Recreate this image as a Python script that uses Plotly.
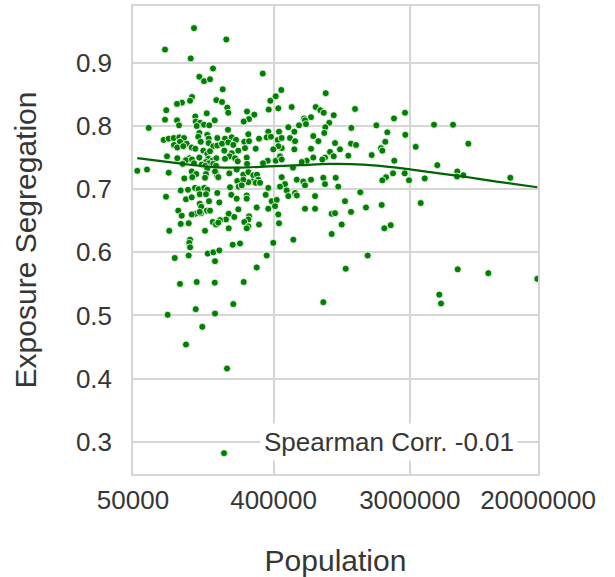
import math
import plotly.graph_objects as go

population = [
    123300, 198800, 80300, 117400, 163300, 133400, 143000, 156200, 188500, 119700,
    116300, 103200, 95900, 171500, 186600, 201800, 204800, 81800, 80300, 95900,
    125700, 148800, 167500, 98800, 126500, 134800, 143000, 154600, 128300, 63100,
    203900, 340700, 448600, 412900, 381300, 865000, 270100, 300800, 278200, 257200,
    372400, 429000, 523000, 746000, 799000, 840000, 974000, 696000, 628000, 637000,
    646000, 583000, 497700, 912000, 860000, 133400, 150100, 78700, 84800, 91300,
    99200, 106300, 131400, 153200, 174000, 195000, 215400, 229500, 91700, 100200,
    110700, 119200, 125700, 136100, 153200, 164000, 174000, 186600, 204800, 220500,
    96300, 105200, 141500, 150100, 156200, 193000, 215400, 237500, 209100, 226200,
    195000, 82700, 96300, 115000, 109500, 119700, 133400, 152300, 147200, 161600,
    171500, 53300, 61500, 84800, 104300, 123300, 138200, 153900, 164000, 145700,
    150100, 170700, 119200, 147200, 172500, 168200, 127600, 207900, 231900, 106800,
    120200, 145100, 176600, 210100, 233900, 238800, 101300, 112800, 125100, 132100,
    143600, 150100, 134200, 147200, 174000, 214100, 81500, 109500, 119200, 179300,
    134200, 153900, 137300, 148800, 156200, 136700, 125700, 134200, 97700, 102800,
    119200, 206000, 237500, 223800, 197900, 181100, 162600, 170700, 176600, 206000,
    145100, 101300, 114000, 85500, 116300, 115000, 243500, 544000, 370100, 433500,
    847000, 275400, 259500, 278200, 262200, 307100, 322600, 361400, 385200, 425300,
    451200, 510000, 550000, 544000, 451200, 429000, 398500, 720000, 776000, 993000,
    1069000, 696000, 922000, 974000, 856000, 823000, 720000, 653000, 607000, 412900,
    440000, 451200, 366800, 342200, 268900, 235300, 270100, 533000, 255700, 275400,
    296400, 313100, 319300, 292100, 275400, 255700, 249700, 307100, 327300, 451200,
    473900, 440000, 370100, 564000, 621000, 637000, 696000, 835000, 856000, 1003000,
    1042000, 485800, 497700, 550000, 564000, 739000, 268900, 268900, 231900, 356100,
    389100, 419100, 408700, 370100, 311700, 429000, 637000, 739000, 945000, 993000,
    1096000, 1151000, 278200, 275400, 259500, 275400, 268900, 322600, 433500, 945000,
    536000, 398500, 1335000, 2797000, 2376000, 1264000, 1829000, 2152000, 2809000, 4295000,
    5689000, 1258000, 1355000, 2089000, 1961000, 1999000, 3276000, 7135000, 1209000, 1708000,
    2387000, 4510000, 6062000, 6035000, 6625000, 13280000, 2111000, 1999000, 2342000, 2785000,
    2967000, 3743000, 1443000, 1981000, 1570000, 1258000, 3528000, 2059000, 2263000, 1610000,
    1163000, 6098000, 9590000, 19800000, 4645000, 4763000, 116300, 92700, 114000, 151000,
    164000, 179300, 168200, 218600, 361400, 311700, 100200, 128300, 167500, 257200,
    220500, 126500, 83500, 168200, 139400, 109500, 200900, 835000, 192200,
]

exposure_segregation = [
    0.955, 0.937, 0.921, 0.907, 0.891, 0.878, 0.871, 0.874, 0.858, 0.846,
    0.840, 0.837, 0.835, 0.841, 0.838, 0.829, 0.821, 0.825, 0.810, 0.809,
    0.815, 0.820, 0.809, 0.801, 0.807, 0.805, 0.802, 0.801, 0.800, 0.797,
    0.794, 0.883, 0.857, 0.847, 0.840, 0.852, 0.823, 0.818, 0.811, 0.807,
    0.826, 0.828, 0.830, 0.830, 0.825, 0.821, 0.817, 0.814, 0.812, 0.809,
    0.803, 0.801, 0.798, 0.805, 0.798, 0.789, 0.786, 0.778, 0.780, 0.781,
    0.782, 0.781, 0.783, 0.780, 0.781, 0.780, 0.782, 0.778, 0.770, 0.775,
    0.772, 0.766, 0.764, 0.775, 0.773, 0.768, 0.769, 0.772, 0.774, 0.770,
    0.766, 0.768, 0.761, 0.756, 0.760, 0.761, 0.757, 0.761, 0.752, 0.749,
    0.748, 0.752, 0.749, 0.749, 0.746, 0.747, 0.750, 0.748, 0.743, 0.745,
    0.749, 0.729, 0.731, 0.726, 0.740, 0.741, 0.739, 0.741, 0.740, 0.737,
    0.733, 0.737, 0.728, 0.724, 0.723, 0.728, 0.724, 0.725, 0.731, 0.717,
    0.719, 0.718, 0.719, 0.703, 0.713, 0.704, 0.698, 0.699, 0.702, 0.700,
    0.702, 0.699, 0.692, 0.692, 0.694, 0.691, 0.688, 0.684, 0.687, 0.679,
    0.677, 0.681, 0.672, 0.666, 0.666, 0.662, 0.661, 0.664, 0.666, 0.658,
    0.660, 0.661, 0.668, 0.656, 0.652, 0.651, 0.648, 0.644, 0.647, 0.638,
    0.634, 0.645, 0.646, 0.634, 0.620, 0.615, 0.614, 0.791, 0.791, 0.791,
    0.789, 0.787, 0.775, 0.776, 0.765, 0.764, 0.780, 0.782, 0.783, 0.778,
    0.781, 0.781, 0.776, 0.763, 0.765, 0.768, 0.763, 0.784, 0.776, 0.773,
    0.763, 0.764, 0.759, 0.752, 0.750, 0.747, 0.750, 0.745, 0.743, 0.745,
    0.752, 0.747, 0.745, 0.741, 0.750, 0.744, 0.740, 0.734, 0.723, 0.727,
    0.722, 0.723, 0.715, 0.712, 0.711, 0.715, 0.706, 0.710, 0.710, 0.719,
    0.708, 0.704, 0.702, 0.715, 0.712, 0.706, 0.715, 0.718, 0.708, 0.718,
    0.704, 0.698, 0.689, 0.694, 0.690, 0.689, 0.690, 0.685, 0.685, 0.691,
    0.681, 0.683, 0.673, 0.669, 0.671, 0.660, 0.669, 0.669, 0.661, 0.662,
    0.644, 0.681, 0.657, 0.652, 0.648, 0.641, 0.638, 0.644, 0.646, 0.629,
    0.620, 0.615, 0.827, 0.821, 0.812, 0.797, 0.801, 0.790, 0.786, 0.802,
    0.802, 0.772, 0.770, 0.775, 0.765, 0.761, 0.767, 0.772, 0.753, 0.754,
    0.745, 0.738, 0.728, 0.720, 0.722, 0.718, 0.719, 0.714, 0.725, 0.725,
    0.714, 0.717, 0.695, 0.675, 0.671, 0.664, 0.678, 0.638, 0.643, 0.595,
    0.574, 0.573, 0.567, 0.558, 0.533, 0.519, 0.608, 0.591, 0.595, 0.598,
    0.600, 0.603, 0.586, 0.612, 0.595, 0.576, 0.550, 0.553, 0.552, 0.553,
    0.518, 0.510, 0.501, 0.503, 0.482, 0.454, 0.416, 0.521, 0.282,
]

# LOWESS trend
trend_population = [53300, 105200, 164000, 243500, 368500, 591000, 922000,
                    1510000, 2473000, 4050000, 6630000, 10860000, 19800000]
trend_segregation = [0.749, 0.740, 0.735, 0.734, 0.736, 0.738, 0.740,
                     0.739, 0.734, 0.727, 0.720, 0.712, 0.703]

x_ticks = [50000, 400000, 3000000, 20000000]
x_tick_labels = ["50000", "400000", "3000000", "20000000"]
y_ticks = [0.3, 0.4, 0.5, 0.6, 0.7, 0.8, 0.9]
y_tick_labels = ["0.3", "0.4", "0.5", "0.6", "0.7", "0.8", "0.9"]

spearman_text = "Spearman Corr. -0.01"

FONT = "Liberation Sans"
TEXT = "#363636"
GRID = "#d6d6d6"

fig = go.Figure()
fig.add_trace(go.Scatter(
    x=population, y=exposure_segregation, mode="markers",
    marker=dict(color="#008000", size=7, line=dict(color="white", width=0.8)),
    showlegend=False, hoverinfo="skip",
))
fig.add_trace(go.Scatter(
    x=trend_population, y=trend_segregation, mode="lines",
    line=dict(color="#006400", width=2.2, shape="spline", smoothing=0.6),
    showlegend=False, hoverinfo="skip",
))

fig.update_layout(
    width=615, height=577,
    margin=dict(l=133, r=77, t=6, b=103, pad=0),
    paper_bgcolor="white", plot_bgcolor="white",
    font=dict(family=FONT, color=TEXT, size=26),
    xaxis=dict(
        type="log", automargin=False,
        range=[math.log10(50000), math.log10(20000000)],
        tickvals=x_ticks, ticktext=x_tick_labels,
        tickfont=dict(size=26, family=FONT, color=TEXT),
        showgrid=True, gridcolor=GRID, gridwidth=1.5,
        showline=True, linecolor=GRID, linewidth=1.5, mirror=True,
        ticks="", zeroline=False, ticklabelstandoff=2,
        title=dict(text="Population", font=dict(size=30, family=FONT, color=TEXT), standoff=36),
    ),
    yaxis=dict(
        automargin=False,
        range=[0.249, 0.99],
        tickvals=y_ticks, ticktext=y_tick_labels,
        tickfont=dict(size=26, family=FONT, color=TEXT),
        showgrid=True, gridcolor=GRID, gridwidth=1.5,
        showline=True, linecolor=GRID, linewidth=1.5, mirror=True,
        ticks="", zeroline=False, ticklabelstandoff=14,
        title=dict(text="Exposure Segregation", font=dict(size=30, family=FONT, color=TEXT), standoff=30),
    ),
    annotations=[dict(
        text=spearman_text, xref="x domain", yref="y", x=0.95, y=0.3,
        xanchor="right", yanchor="middle", showarrow=False,
        font=dict(size=26, family=FONT, color=TEXT),
        bgcolor="white", borderpad=3,
    )],
)

fig.write_html(
    "out.html",
    config={"displayModeBar": False},
    post_script="document.body.style.margin='0px';document.body.style.overflow='hidden';",
)
